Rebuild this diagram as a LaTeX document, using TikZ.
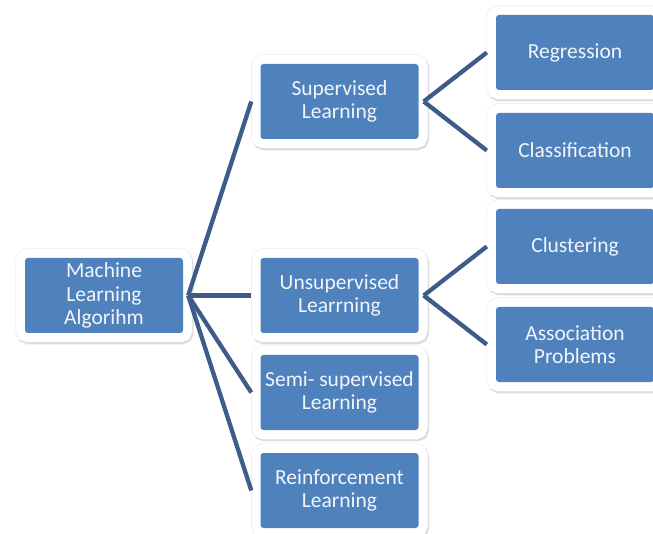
\documentclass[tikz,border=0pt]{standalone}
\usepackage{fontspec}
\setmainfont{Carlito}
\definecolor{boxblue}{HTML}{4F81BD}
\definecolor{linkblue}{HTML}{3E5C8A}
\definecolor{frameshadow}{HTML}{C4C4C4}
\definecolor{frameedge}{HTML}{E6E6E6}
\definecolor{boxtext}{HTML}{F2F5FA}
\begin{document}
\begin{tikzpicture}[x=1pt,y=-1pt,
  box/.style={fill=boxblue, text=boxtext, minimum width=158pt, minimum height=75pt,
    inner sep=0pt, align=center, rounded corners=3pt,
    font=\fontsize{21.5}{23.5}\selectfont,
    preaction={draw=frameshadow, opacity=0.6, line width=19pt, transform canvas={shift={(1.2pt,-1.8pt)}}},
    preaction={draw=frameedge, line width=19pt},
    preaction={draw=white, line width=18pt}},
  link/.style={draw=linkblue, line width=4.3pt}]
\useasboundingbox (0,0) rectangle (653,534);
\node[box] (ml) at (104,295.5) {Machine\\Learning\\Algorihm};
\node[box] (sup) at (339.5,101.5) {Supervised\\Learning};
\node[box] (uns) at (339.5,295.5) {Unsupervised\\Learrning};
\node[box] (semi) at (339.5,392.5) {Semi- supervised\\Learning};
\node[box] (rein) at (339.5,490.5) {Reinforcement\\Learning};
\node[box] (reg) at (575,52.5) {Regression};
\node[box] (cla) at (575,150.5) {Classification};
\node[box] (clu) at (575,246.5) {Clustering};
\node[box] (aso) at (575,344.5) {Association\\Problems};
\draw[link] ([xshift=5pt]ml.east) -- ([xshift=-9pt]sup.west);
\draw[link] ([xshift=5pt]ml.east) -- ([xshift=-9pt]uns.west);
\draw[link] ([xshift=5pt]ml.east) -- ([xshift=-9pt]semi.west);
\draw[link] ([xshift=5pt]ml.east) -- ([xshift=-9pt]rein.west);
\draw[link] ([xshift=5pt]sup.east) -- ([xshift=-9pt]reg.west);
\draw[link] ([xshift=5pt]sup.east) -- ([xshift=-9pt]cla.west);
\draw[link] ([xshift=5pt]uns.east) -- ([xshift=-9pt]clu.west);
\draw[link] ([xshift=5pt]uns.east) -- ([xshift=-9pt]aso.west);
\end{tikzpicture}
\end{document}
